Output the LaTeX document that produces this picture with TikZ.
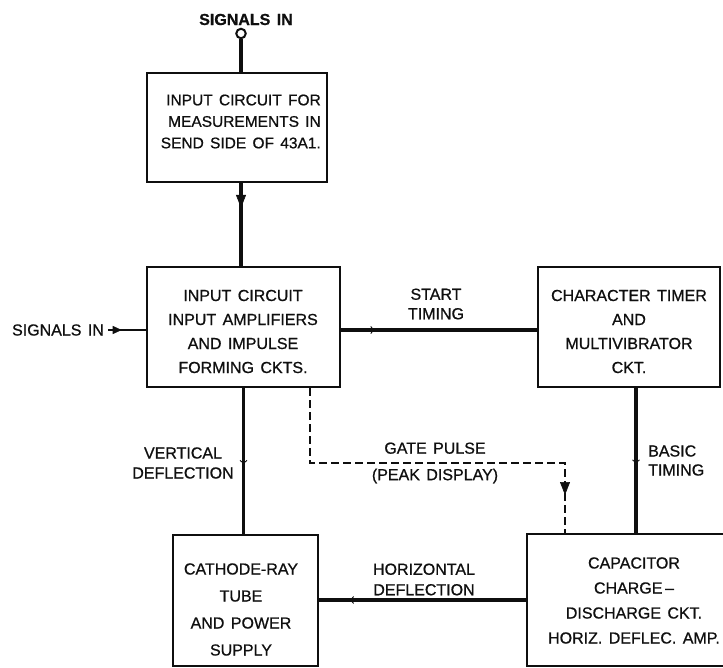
\documentclass[tikz,border=0pt]{standalone}
\usepackage{fontspec}
\setmainfont{Liberation Sans}[WordSpace=1.45,FakeBold=0.8]
\usepackage{tikz}
\usetikzlibrary{arrows.meta,decorations.markings}
\definecolor{scanink}{RGB}{15,15,15}

\begin{document}
\begin{tikzpicture}[x=1pt,y=-1pt,
    frame/.style={draw=scanink,line width=2pt,inner sep=0pt},
    boxtxt/.style={text=scanink,inner sep=0pt,align=center,font=\fontsize{16}{24}\selectfont},
    lbl/.style={text=scanink,inner sep=0pt,align=center,font=\fontsize{16}{20}\selectfont},
    wire/.style={draw=scanink,line width=3.6pt},
    gatewire/.style={draw=scanink,line width=1.8pt,dash pattern=on 8pt off 4pt},
    midtip/.style={postaction={decorate},decoration={markings,mark=at position #1 with {\arrow[scanink,line width=0.9pt]{Straight Barb[length=3pt,width=7pt]}}}},
    bigtip/.style={postaction={decorate},decoration={markings,mark=at position #1 with {\arrow[scanink,solid,line width=0.6pt]{Triangle[length=13pt,width=10pt]}}}}]
  \useasboundingbox (0,0) rectangle (723,667);
  \clip (0,0) rectangle (723,667);

  \node[lbl,font=\fontsize{16}{20}\selectfont\bfseries] (sigtoplbl) at (246,19.5) {SIGNALS IN};
  \node[draw=scanink,line width=2pt,circle,minimum size=9.5pt,inner sep=0pt] (sigtop) at (241,33.5) {};
  \node[lbl] (sigleft) at (58,330) {SIGNALS IN};

  \node[frame,minimum width=180pt,minimum height=109pt] (sendbox) at (237,127.5) {};
  \node[frame,minimum width=193pt,minimum height=120pt] (inbox) at (243.5,327) {};
  \node[frame,minimum width=182pt,minimum height=120pt] (timerbox) at (629,327) {};
  \node[frame,minimum width=145pt,minimum height=131pt] (crtbox) at (245.5,600.5) {};
  \node[frame,minimum width=218pt,minimum height=132pt] (capbox) at (636,600) {};

  \node[boxtxt,align=right,anchor=east,font=\fontsize{15.5}{21.5}\selectfont] (sendtxt) at (321,121.5)
    {INPUT CIRCUIT FOR\\MEASUREMENTS IN\\SEND SIDE OF 43A1.};
  \node[boxtxt] (intxt) at (243,331.5) {INPUT CIRCUIT\\INPUT AMPLIFIERS\\AND IMPULSE\\FORMING CKTS.};
  \node[boxtxt] (timertxt) at (629,331.5) {CHARACTER TIMER\\AND\\MULTIVIBRATOR\\CKT.};
  \node[boxtxt,font=\fontsize{16}{27}\selectfont] (crttxt) at (241,609.5) {CATHODE-RAY\\TUBE\\AND POWER\\SUPPLY};
  \node[boxtxt,font=\fontsize{16}{25}\selectfont] (captxt) at (634,600.5)
    {CAPACITOR\\CHARGE\thinspace--\\DISCHARGE CKT.\\HORIZ. DEFLEC. AMP.};

  \node[lbl,font=\fontsize{16}{19.5}\selectfont] (startlbl) at (436,304) {START\\TIMING};
  \node[lbl] (vertlbl) at (183,463) {VERTICAL\\DEFLECTION};
  \node[lbl,font=\fontsize{16}{26.5}\selectfont] (gatelbl) at (435,463) {GATE PULSE\\(PEAK DISPLAY)};
  \node[lbl,align=left,anchor=west,font=\fontsize{16}{19}\selectfont] (basiclbl) at (648,460.5) {BASIC\\TIMING};
  \node[lbl,font=\fontsize{16}{20.5}\selectfont] (horizlbl) at (424,579.5) {HORIZONTAL\\DEFLECTION};

  \draw[wire,line width=3.2pt] (sigtop.south) -- (sigtop.south |- sendbox.north);
  \draw[wire,bigtip=0.3] (sendbox.south -| sigtop) -- (inbox.north -| sigtop);
  \draw[wire,line width=2.8pt,postaction={decorate},decoration={markings,mark=at position 0.36 with {\arrow[scanink,line width=0.6pt]{Triangle[length=9pt,width=8pt]}}}] ([xshift=4pt]sigleft.east) -- (sigleft.east -| inbox.west);
  \draw[wire,midtip=0.17] ([yshift=-3pt]inbox.east) -- ([yshift=-3pt]timerbox.west);
  \draw[wire,midtip=0.52] (inbox.south) -- (inbox.south |- crtbox.north);
  \draw[wire,midtip=0.52] (timerbox.south -| capbox.north) -- (capbox.north);
  \draw[wire,midtip=0.85] (capbox.west) -- (capbox.west -| crtbox.east);
  \draw[gatewire,bigtip=0.905] (inbox.south -| 310,0) -- (310,463) -| (capbox.north -| 565,0);
\end{tikzpicture}
\end{document}
